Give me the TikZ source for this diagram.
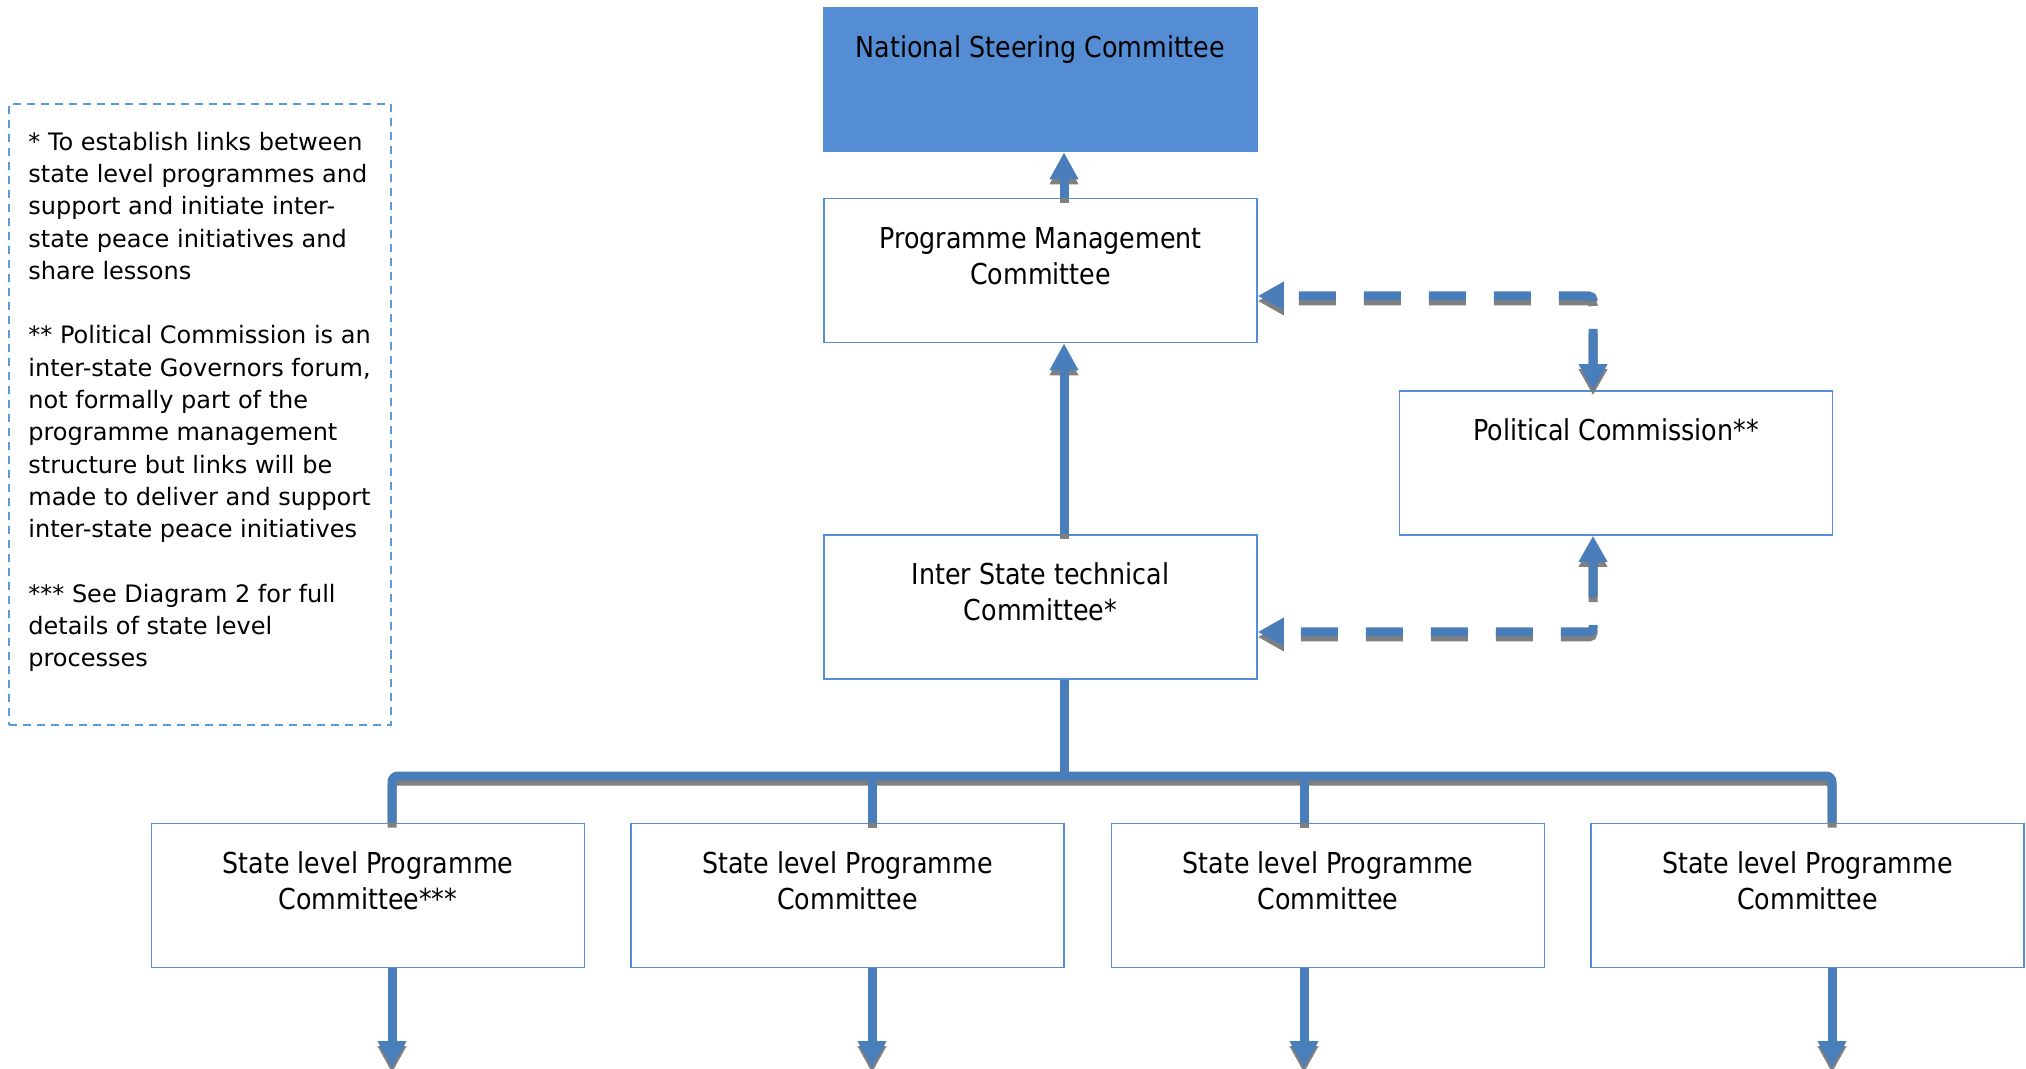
\documentclass[tikz,border=0pt]{standalone}
\usepackage{fontspec}
\setmainfont{DejaVu Sans}
\newfontfamily\boxfont[FakeStretch=0.88]{DejaVu Sans}
\usetikzlibrary{arrows.meta}
\definecolor{boxline}{RGB}{84,141,212}
\definecolor{nscfill}{RGB}{84,141,212}
\definecolor{connblue}{RGB}{74,126,187}
\definecolor{shadowgray}{RGB}{128,128,128}
\definecolor{legline}{RGB}{91,155,213}
\newcommand\shdraw[2]{\draw[#1,shadowln] #2; \draw[#1] #2;}
\begin{document}
\begin{tikzpicture}[x=0.5pt,y=-0.5pt,
  box/.style={draw=boxline, line width=0.8pt, fill=white, minimum width=216.5pt, minimum height=72pt, inner sep=0pt},
  boxtxt/.style={inner sep=0pt, align=center, font=\boxfont\fontsize{14.4}{18}\selectfont, anchor=north, yshift=-14pt},
  conn/.style={line width=4.5pt, draw=connblue},
  shadowln/.style={draw=shadowgray, transform canvas={yshift=-2.5pt}},
  tip/.style={-{Triangle[width=13.5pt,length=13.5pt]}},
  dtip/.style={{Triangle[width=13.5pt,length=13pt]}-{Triangle[width=13.5pt,length=13pt]}},
  dashline/.style={dash pattern=on 18.5pt off 14pt, rounded corners=2pt},
]
\useasboundingbox (0,0) rectangle (2026,1069);

% legend
\node[draw=legline, line width=1pt, dash pattern=on 4pt off 3pt, minimum width=191pt, minimum height=310pt, inner sep=0pt] (legbox) at (200,414.5) {};
\node[anchor=north west, inner sep=0pt, align=left, font=\fontsize{12}{16.15}\selectfont] (legtxt) at (28,131.5) {\rule{0pt}{9pt}* To establish links between\\state level programmes and\\support and initiate inter-\\state peace initiatives and\\share lessons\\[16.15pt]** Political Commission is an\\inter-state Governors forum,\\not formally part of the\\programme management\\structure but links will be\\made to deliver and support\\inter-state peace initiatives\\[16.15pt]*** See Diagram 2 for full\\details of state level\\processes};

% boxes
\node[box, fill=nscfill, draw=nscfill] (nsc) at (1040.5,79.5) {};
\node[boxtxt] (nsct) at (nsc.north) {\rule{0pt}{11pt}National Steering Committee};
\node[box] (pmc) at (1040.5,270.5) {};
\node[boxtxt] (pmct) at (pmc.north) {\rule{0pt}{11pt}Programme Management\\Committee};
\node[box] (pc) at (1616,463) {};
\node[boxtxt] (pct) at (pc.north) {\rule{0pt}{11pt}Political Commission**};
\node[box] (ist) at (1040.5,607) {};
\node[boxtxt] (istt) at (ist.north) {\rule{0pt}{11pt}Inter State technical\\Committee*};
\node[box] (s1) at (368,895.5) {};
\node[boxtxt] (s1t) at (s1.north) {\rule{0pt}{11pt}State level Programme\\Committee***};
\node[box] (s2) at (847.5,895.5) {};
\node[boxtxt] (s2t) at (s2.north) {\rule{0pt}{11pt}State level Programme\\Committee};
\node[box] (s3) at (1328,895.5) {};
\node[boxtxt] (s3t) at (s3.north) {\rule{0pt}{11pt}State level Programme\\Committee};
\node[box] (s4) at (1807.5,895.5) {};
\node[boxtxt] (s4t) at (s4.north) {\rule{0pt}{11pt}State level Programme\\Committee};

% helper coordinates
\coordinate (sx) at (1064,0);
\coordinate (dtop) at (1593,296);
\coordinate (dbot) at (1593,632);
\coordinate (bar) at (0,776);
\coordinate (c1) at (392,0);
\coordinate (c2) at (872,0);
\coordinate (c3) at (1304,0);
\coordinate (c4) at (1832,0);
\coordinate (e1) at (392,1068);
\coordinate (e2) at (872,1068);
\coordinate (e3) at (1304,1068);
\coordinate (e4) at (1832,1068);

% connectors
\shdraw{conn,tip}{(pmc.north -| sx) -- (nsc.south -| sx)}
\shdraw{conn,tip}{(ist.north -| sx) -- (pmc.south -| sx)}
\shdraw{conn,dtip,dashline}{(pc.north -| dtop) |- (pmc.east |- dtop)}
\shdraw{conn,dtip,dashline}{(pc.south -| dbot) |- (ist.east |- dbot)}
\shdraw{conn}{(ist.south -| sx) -- (sx |- bar)}
\shdraw{conn,rounded corners=3pt}{(s1.north -| c1) |- (c4 |- bar) -- (s4.north -| c4)}
\shdraw{conn}{(c2 |- bar) -- (s2.north -| c2)}
\shdraw{conn}{(c3 |- bar) -- (s3.north -| c3)}
\shdraw{conn,tip}{(s1.south -| c1) -- (e1)}
\shdraw{conn,tip}{(s2.south -| c2) -- (e2)}
\shdraw{conn,tip}{(s3.south -| c3) -- (e3)}
\shdraw{conn,tip}{(s4.south -| c4) -- (e4)}
\end{tikzpicture}
\end{document}
